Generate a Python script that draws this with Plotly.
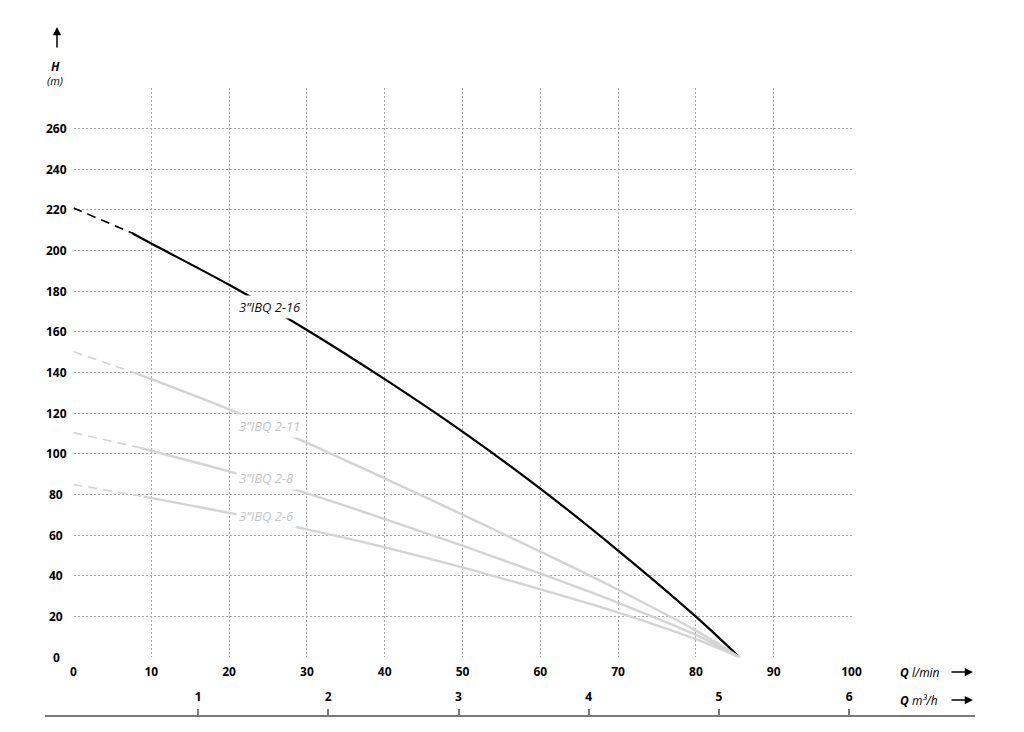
import plotly.graph_objects as go

# ---------------- data ----------------
X_TICKS = [0, 10, 20, 30, 40, 50, 60, 70, 80, 90, 100]
Y_TICKS = [0, 20, 40, 60, 80, 100, 120, 140, 160, 180, 200, 220, 240, 260, 280]
Y_LABELS = [0, 20, 40, 60, 80, 100, 120, 140, 160, 180, 200, 220, 240, 260]
M3H_TICKS = [1, 2, 3, 4, 5, 6]

# 3"IBQ 2-16
Q_2_16 = [0, 7.5, 10, 20, 30, 40, 50, 60, 70, 80, 85.6]
H_2_16 = [221, 208.7, 203.5, 183.2, 161, 136.8, 111, 83, 52.5, 20, 0]
# 3"IBQ 2-11
Q_2_11 = [0, 7.8, 10, 20, 30, 40, 50, 60, 70, 80, 85.6]
H_2_11 = [150.3, 140, 136.8, 121.9, 105.5, 88, 70.2, 52, 33.2, 13.1, 0]
# 3"IBQ 2-8
Q_2_8 = [0, 8.6, 10, 20, 30, 40, 50, 60, 70, 80, 85.6]
H_2_8 = [110.5, 103, 101.6, 91.4, 80.6, 68, 54.9, 41.2, 26.8, 11, 0]
# 3"IBQ 2-6
Q_2_6 = [0, 9, 20, 30, 40, 50, 60, 70, 80, 85.6]
H_2_6 = [85, 79, 71, 62.9, 54.1, 44.2, 33.4, 22, 8.9, 0]

CURVE_NAMES = ['3”IBQ 2-16', '3”IBQ 2-11', '3”IBQ 2-8', '3”IBQ 2-6']
CURVE_Q = [Q_2_16, Q_2_11, Q_2_8, Q_2_6]
CURVE_H = [H_2_16, H_2_11, H_2_8, H_2_6]
CURVE_COLORS = ['#000000', '#d3d3d3', '#d3d3d3', '#d3d3d3']
LABEL_COLORS = ['#111111', '#c4c4c4', '#c4c4c4', '#c4c4c4']
# label anchor (Q, H) of the left edge of each curve label
LABEL_Q = [20.9, 20.9, 20.9, 20.9]
LABEL_H = [172.3, 113.8, 88.4, 69.5]

FONT = "Open Sans"

# ---------------- layout geometry ----------------
# The page body has an 8px margin, so the figure is 8px smaller than the
# window and all reference pixel positions are shifted by that margin.
PAGE_OFF = 8
W, H = 1024 - PAGE_OFF, 732 - PAGE_OFF
REF_L, REF_R, REF_T, REF_B = 45, 975, 88, 716   # plot area in window pixels
ML, MR, MT, MB = REF_L - PAGE_OFF, 1024 - REF_R, REF_T - PAGE_OFF, 732 - REF_B
PW = REF_R - REF_L
PH = REF_B - REF_T


def px_x(p):
    return (p - REF_L) / PW


def px_y(p):
    return (REF_B - p) / PH


fig = go.Figure()

for name, q, h, col in zip(CURVE_NAMES, CURVE_Q, CURVE_H, CURVE_COLORS):
    # dashed extrapolated start (first two points)
    fig.add_trace(go.Scatter(
        x=q[:2], y=h[:2], mode='lines',
        line=dict(color=col, width=1.6, dash='9px,6px'),
        showlegend=False, hoverinfo='skip'))
    # solid curve
    fig.add_trace(go.Scatter(
        x=q[1:], y=h[1:], mode='lines', name=name,
        line=dict(color=col, width=2.2 if col == '#000000' else 2.4,
                  shape='spline', smoothing=1.0),
        showlegend=False))

# dummy trace to establish the m3/h axis subplot
fig.add_trace(go.Scatter(x=M3H_TICKS, y=[0] * len(M3H_TICKS), xaxis='x2', yaxis='y3',
                         mode='markers', marker=dict(opacity=0), showlegend=False,
                         hoverinfo='skip'))

annotations = []
# curve labels (white box hides the line behind the text)
for name, lq, lh, lc in zip(CURVE_NAMES, LABEL_Q, LABEL_H, LABEL_COLORS):
    annotations.append(dict(
        x=lq, y=lh, xref='x', yref='y', text='<i>' + name + '</i>',
        showarrow=False, xanchor='left', yanchor='middle',
        font=dict(family=FONT, size=13, color=lc),
        bgcolor='white', borderpad=2))

# y tick labels (centred)
for v in Y_LABELS:
    annotations.append(dict(
        x=px_x(56), y=v, xref='paper', yref='y', text='<b>%d</b>' % v,
        showarrow=False, xanchor='center', yanchor='middle',
        font=dict(family=FONT, size=12, color='black')))

# axis titles
annotations += [
    dict(x=px_x(55), y=px_y(67), xref='paper', yref='paper', text='<b><i>H</i></b>',
         showarrow=False, xanchor='center', yanchor='middle',
         font=dict(family=FONT, size=12, color='black')),
    dict(x=px_x(55), y=px_y(80), xref='paper', yref='paper', text='<i>(m)</i>',
         showarrow=False, xanchor='center', yanchor='middle',
         font=dict(family=FONT, size=11, color='black')),
    dict(x=px_x(57), y=px_y(27), xref='paper', yref='paper', text='',
         showarrow=True, ax=0, ay=22, arrowhead=2, arrowsize=1.1, arrowwidth=1.5,
         arrowcolor='black'),
    dict(x=px_x(898), y=px_y(672), xref='paper', yref='paper',
         text='<b><i>Q</i></b> <i>l/min</i>',
         showarrow=False, xanchor='left', yanchor='middle',
         font=dict(family=FONT, size=12, color='black')),
    dict(x=px_x(898), y=px_y(700), xref='paper', yref='paper',
         text='<b><i>Q</i></b> <i>m³/h</i>',
         showarrow=False, xanchor='left', yanchor='middle',
         font=dict(family=FONT, size=12, color='black')),
    dict(x=px_x(973), y=px_y(672), xref='paper', yref='paper', text='',
         showarrow=True, ax=-23, ay=0, arrowhead=2, arrowsize=1.1, arrowwidth=1.5,
         arrowcolor='black'),
    dict(x=px_x(973), y=px_y(700), xref='paper', yref='paper', text='',
         showarrow=True, ax=-23, ay=0, arrowhead=2, arrowsize=1.1, arrowwidth=1.5,
         arrowcolor='black'),
]

grid = dict(showgrid=True, gridcolor='#a8a8a8', griddash='2px,2px', gridwidth=1,
            zeroline=False, showline=False)

# m3/h axis: linear fit of the reference tick positions (px = 67.9 + 130.2*m)
m_lo = (REF_L - 67.9) / 130.2
m_hi = (REF_R - 67.9) / 130.2

fig.update_layout(
    width=W, height=H,
    margin=dict(l=ML, r=MR, t=MT, b=MB, pad=0),
    paper_bgcolor='white', plot_bgcolor='white',
    font=dict(family=FONT, color='black'),
    xaxis=dict(domain=[px_x(73.5), px_x(851.5)], range=[0, 100],
               tickvals=X_TICKS, ticktext=['<b>%d</b>' % v for v in X_TICKS],
               tickfont=dict(family=FONT, size=12, color='black'),
               ticks='', ticklabelstandoff=6, anchor='y', **grid),
    yaxis=dict(domain=[px_y(657.3), 1], range=[0, 280],
               tickvals=Y_TICKS, showticklabels=False, ticks='', anchor='x', **grid),
    xaxis2=dict(domain=[0, 1], range=[m_lo, m_hi], anchor='free', position=0,
                side='top', showgrid=False, zeroline=False, showline=True,
                linecolor='#7a7a7a', linewidth=2, ticks='outside', ticklen=6,
                tickwidth=1.5, tickcolor='#7a7a7a', tickvals=M3H_TICKS,
                ticktext=['<b>%d</b>' % v for v in M3H_TICKS],
                tickfont=dict(family=FONT, size=12, color='black'),
                ticklabelstandoff=3),
    yaxis3=dict(domain=[0, 0.01], visible=False, anchor='x2', range=[0, 1]),
    annotations=annotations,
    showlegend=False,
)

fig.write_html("out.html")
